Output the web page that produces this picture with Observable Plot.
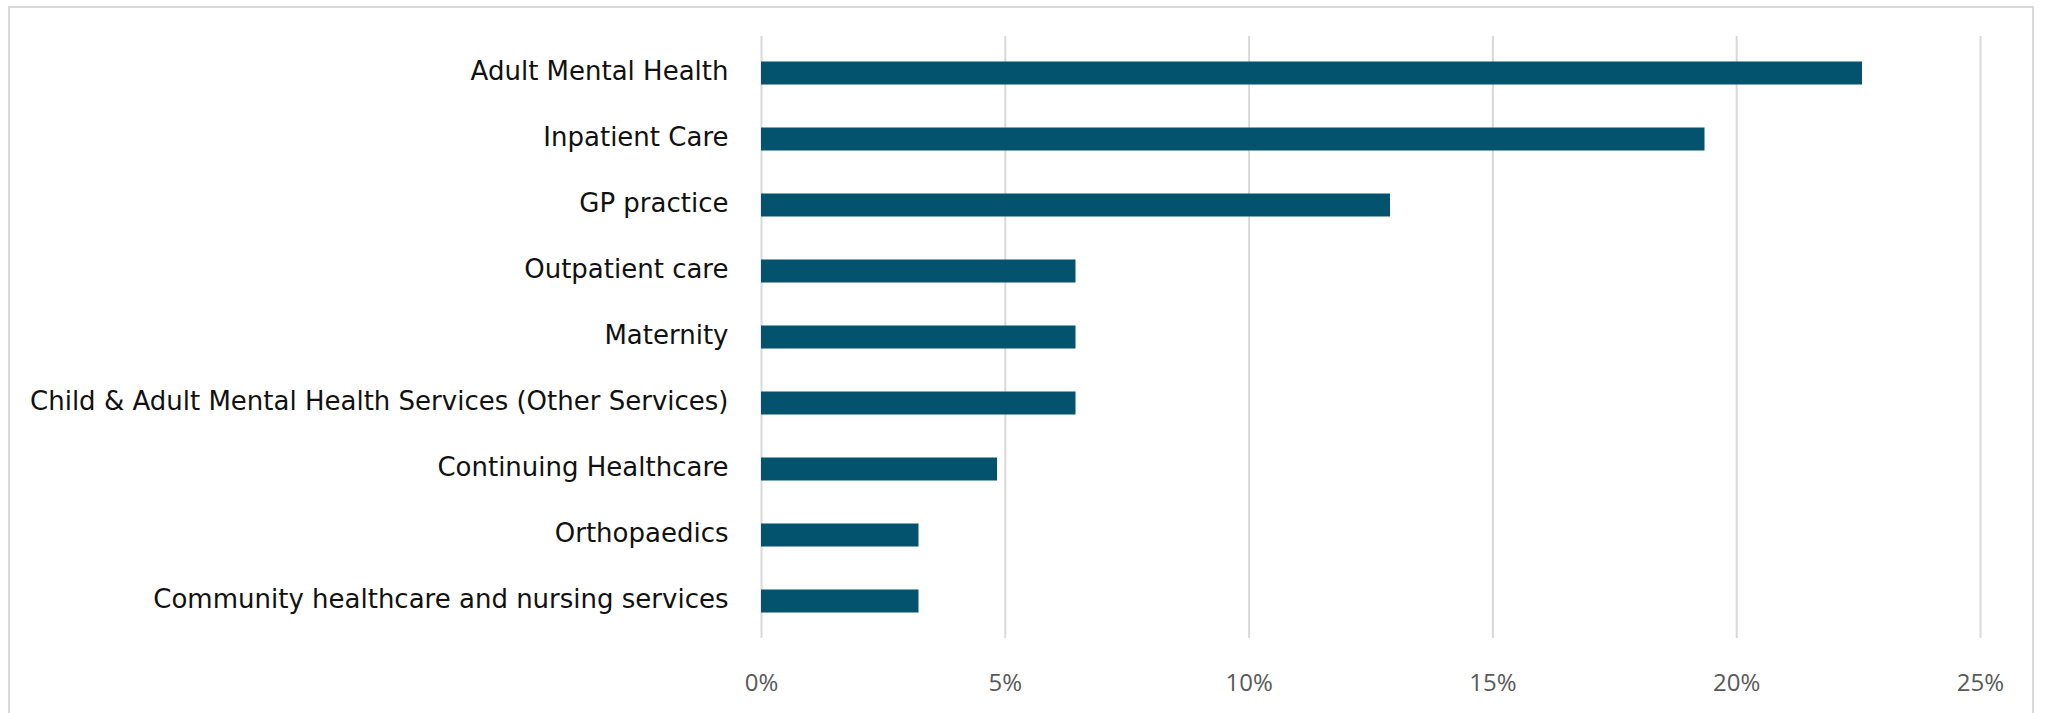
<!DOCTYPE html>
<html>
<head>
<meta charset="utf-8">
<script src="https://cdn.jsdelivr.net/npm/d3@7"></script>
<script src="https://cdn.jsdelivr.net/npm/@observablehq/plot@0.6"></script>
<style>
  html, body { margin: 0; padding: 0; background: #fff; overflow: hidden; }
  #wrap { position: relative; width: 2047px; height: 713px; }
  #border { position: absolute; left: 8px; top: 6px; width: 2026px; height: 720px; border: 2px solid #d9d9d9; box-sizing: border-box; pointer-events: none; }
  #chart { position: absolute; left: 0; top: 0; }
</style>
</head>
<body>
<div id="wrap">
  <div id="chart"></div>
  <div id="border"></div>
</div>
<script>
const categories = [
  "Adult Mental Health",
  "Inpatient Care",
  "GP practice",
  "Outpatient care",
  "Maternity",
  "Child & Adult Mental Health Services (Other Services)",
  "Continuing Healthcare",
  "Orthopaedics",
  "Community healthcare and nursing services"
];
const shares = [0.2258, 0.1935, 0.1290, 0.0645, 0.0645, 0.0645, 0.0484, 0.0323, 0.0323];
const xTicks = [0, 0.05, 0.10, 0.15, 0.20, 0.25];

const data = categories.map((c, i) => ({category: c, value: shares[i]}));

const chart = Plot.plot({
  width: 2047,
  height: 713,
  marginLeft: 761,
  marginRight: 67,
  marginTop: 36,
  marginBottom: 75,
  style: {fontFamily: "'Open Sans', sans-serif", background: "transparent"},
  x: {domain: [0, 0.25], ticks: xTicks},
  y: {domain: categories, padding: 0},
  marks: [
    Plot.ruleX(xTicks, {stroke: "#d9d9d9", strokeWidth: 2}),
    Plot.barX(data, {x: "value", y: "category", fill: "#03526e", insetTop: 21.5, insetBottom: 21.5}),
    Plot.axisX({ticks: xTicks, tickFormat: d3.format(".0%"), tickSize: 0, tickPadding: 35, fontSize: 24, fill: "#595959", label: null}),
    Plot.axisY({tickSize: 0, tickPadding: 33, fontSize: 26, fontFamily: "'DejaVu Sans', sans-serif", fill: "#111", label: null, dy: -2})
  ]
});
document.getElementById("chart").appendChild(chart);
</script>
</body>
</html>
